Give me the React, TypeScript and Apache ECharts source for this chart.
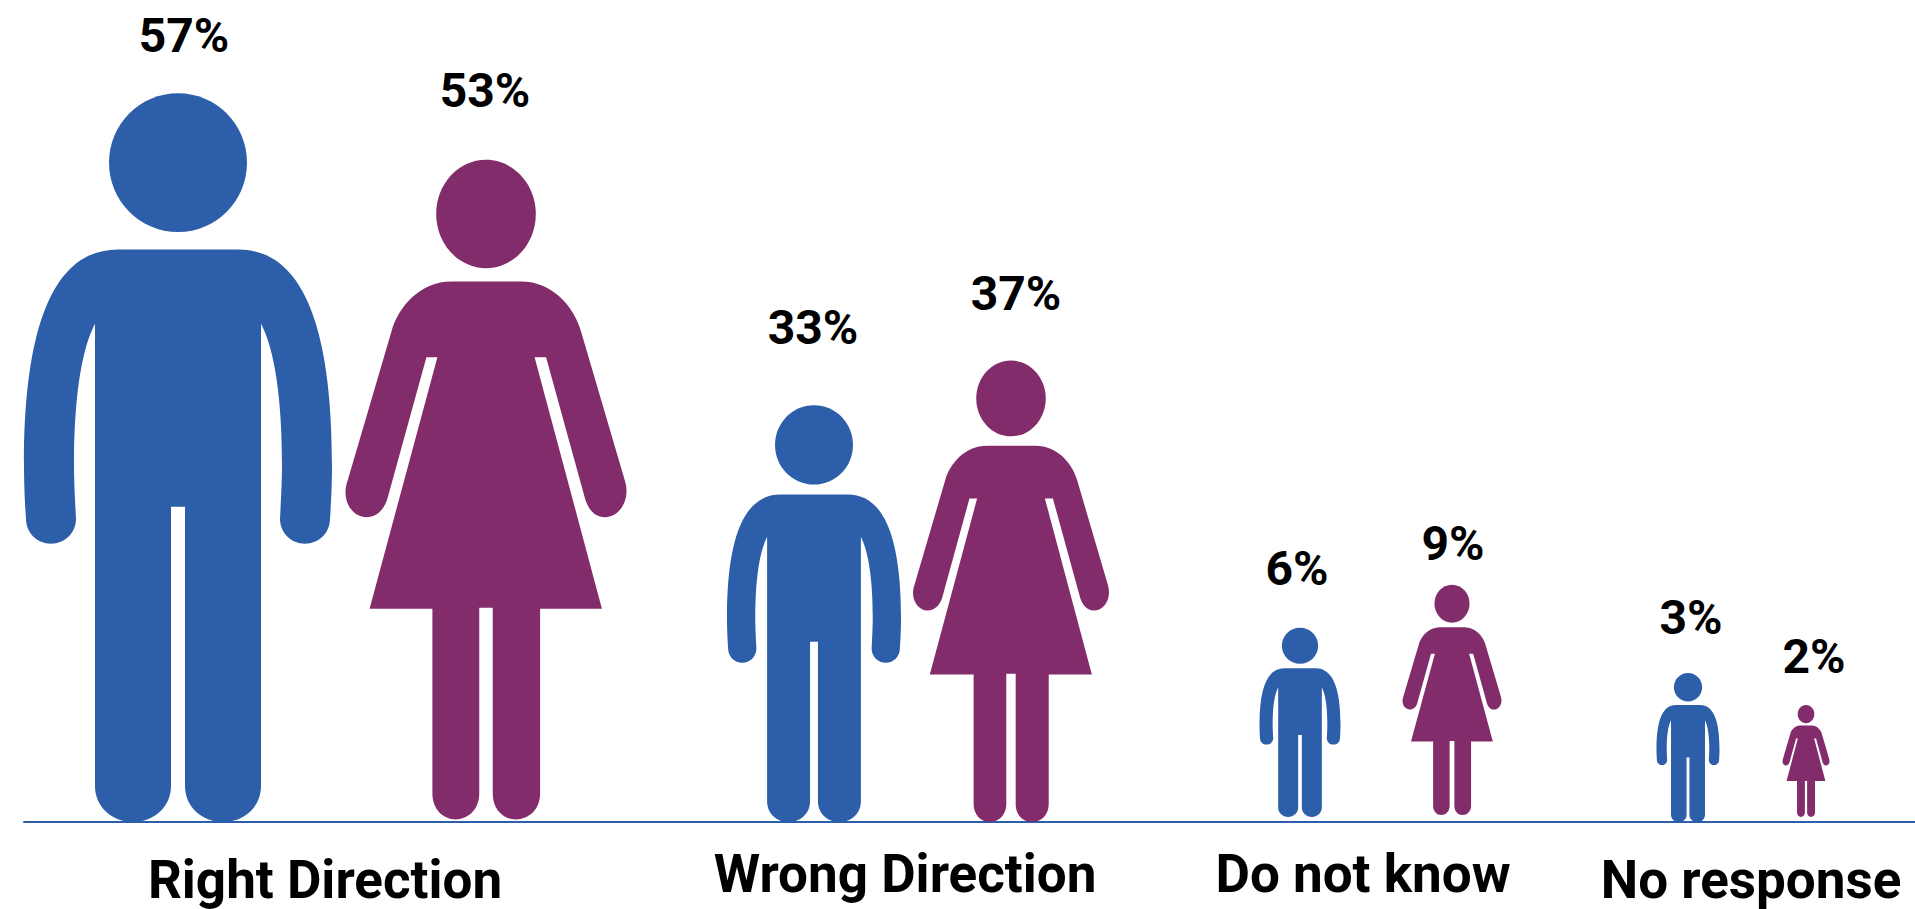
import React, { useEffect, useRef } from "react";
import * as echarts from "echarts";

// Values
const categories = ["Right Direction", "Wrong Direction", "Do not know", "No response"];
const menPercent = [57, 33, 6, 3];
const womenPercent = [53, 37, 9, 2];
// Height of each figure as drawn, in axis units (the picture does not scale them strictly by value)
const menDrawn = [57, 32.6, 14.8, 11.65];
const womenDrawn = [51.6, 36.1, 18, 8.76];

// Layout (x axis units are pixels)
const categoryCentres = [325, 905, 1363, 1751];
const categoryLift = ["low", "high", "high", "low"];
const menCentres = [178, 814, 1300, 1688];
const womenCentres = [486, 1011, 1452, 1806];
const menWidths = [308, 174, 81, 63];
const womenWidths = [281, 196, 99, 47];
const menBase = [0, 0, 0.4, 0];
const womenBase = [0.2, 0, 0.55, 0.4];
const menLabelX = [184, 813, 1297, 1691];
const womenLabelX = [485, 1016, 1453, 1814];
const menLabelY = [35, 327, 568, 617];
const womenLabelY = [90, 293, 543, 656];

const BLUE = "#2C5EAA";
const PURPLE = "#832C6B";
const FONT = "Roboto";

const MAN =
  "M118 249 L238 249 C300 249 332 320 332 465 C332 485 331 505 330 519 C330 533 319 544 305 544 C291 544 280 533 280 519 C281 500 282 480 282 465 C282 400 275 350 261 323.5 L261 787 C261 808 244 823 223 823 C202 823 185 808 185 787 L185 507 L171 507 L171 787 C171 808 154 823 133 823 C112 823 95 808 95 787 L95 323.5 C81 350 74 400 74 465 C74 480 75 500 76 519 C76 533 65 544 51 544 C37 544 26 533 26 519 C25 505 24 485 24 465 C24 320 56 249 118 249 Z";
const WOMAN =
  "M451 281 L521 281 C552 281 574 306 581 331 L625 481 C631 500 620 518 605 518 C595 518 588 510 585 499 L546 357 L534.5 357 L602 610 L540 610 L540 796 C540 812 529 822 515.5 822 C503 822 492.5 812 492.5 796 L492.5 609 L479 609 L479 796 C479 812 468 822 455 822 C443 822 432 812 432 796 L432 610 L369 610 L437 357 L426 357 L387 499 C384 510 376 518 366 518 C351 518 340 500 347 481 L391 331 C398 306 420 281 451 281 Z";

// Proportions of each figure: where the body starts, and the head's radii
const MAN_SHAPE = { bodyTop: 0.2142, rx: 0.224, ry: 0.0951 };
const WOMAN_SHAPE = { bodyTop: 0.1846, rx: 0.1773, ry: 0.0821 };

type Row = [number, number, number, number, number, number, number];
const rows = (centres: number[], drawn: number[], base: number[], widths: number[], pct: number[], lx: number[], ly: number[]): Row[] =>
  centres.map((c, i) => [c, drawn[i], base[i], widths[i], pct[i], lx[i], ly[i]]);

const figureSeries = (name: string, d: string, shape: { bodyTop: number; rx: number; ry: number }, color: string, data: Row[]) => ({
  type: "custom",
  name,
  clip: false,
  silent: true,
  data,
  encode: { x: 0, y: 1 },
  renderItem: (_p: any, api: any) => {
    const cx = api.value(0);
    const h = api.value(1);
    const base = api.value(2);
    const w = api.value(3);
    const [, yTop] = api.coord([cx, base + h]);
    const [, yBottom] = api.coord([cx, base]);
    const [xc] = api.coord([cx, 0]);
    const [lx] = api.coord([api.value(5), 0]);
    const H = yBottom - yTop;
    const bodyY = yTop + H * shape.bodyTop;
    return {
      type: "group",
      children: [
        {
          type: "ellipse",
          shape: { cx: xc, cy: yTop + H * shape.ry, rx: w * shape.rx, ry: H * shape.ry },
          style: { fill: color },
        },
        {
          type: "path",
          shape: { pathData: d, layout: "cover", x: xc - w / 2, y: bodyY, width: w, height: yBottom - bodyY },
          style: { fill: color },
        },
        {
          type: "text",
          x: lx,
          y: api.value(6),
          style: {
            text: api.value(4) + "%",
            fill: "#000",
            font: `700 48px ${FONT}`,
            textAlign: "center",
            textVerticalAlign: "middle",
          },
        },
      ],
    };
  },
});

export default function App() {
  const ref = useRef<HTMLDivElement>(null);
  useEffect(() => {
    const chart = echarts.init(ref.current!, undefined, { renderer: "svg" });
    chart.setOption({
      animation: false,
      backgroundColor: "#fff",
      grid: { left: 24, right: 0, top: 55, bottom: 87 },
      xAxis: {
        type: "value",
        min: 24,
        max: 1915,
        splitLine: { show: false },
        axisTick: { show: false },
        axisLine: { show: true, lineStyle: { color: BLUE, width: 2 }, onZero: false },
        axisLabel: {
          show: true,
          customValues: categoryCentres,
          margin: 25,
          hideOverlap: false,
          formatter: (v: number) => {
            const i = categoryCentres.indexOf(v);
            return `{${categoryLift[i]}|${categories[i]}}`;
          },
          rich: {
            low: { fontFamily: FONT, fontWeight: 700, fontSize: 53, color: "#000", padding: [6, 0, 0, 0] },
            high: { fontFamily: FONT, fontWeight: 700, fontSize: 53, color: "#000", padding: [0, 0, 0, 0] },
          },
        },
      },
      yAxis: { type: "value", min: 0, max: 60, show: false },
      series: [
        figureSeries("Men", MAN, MAN_SHAPE, BLUE, rows(menCentres, menDrawn, menBase, menWidths, menPercent, menLabelX, menLabelY)),
        figureSeries("Women", WOMAN, WOMAN_SHAPE, PURPLE, rows(womenCentres, womenDrawn, womenBase, womenWidths, womenPercent, womenLabelX, womenLabelY)),
      ],
    });
    return () => chart.dispose();
  }, []);
  return <div ref={ref} style={{ position: "fixed", left: 0, top: 0, width: 1915, height: 909 }} />;
}
